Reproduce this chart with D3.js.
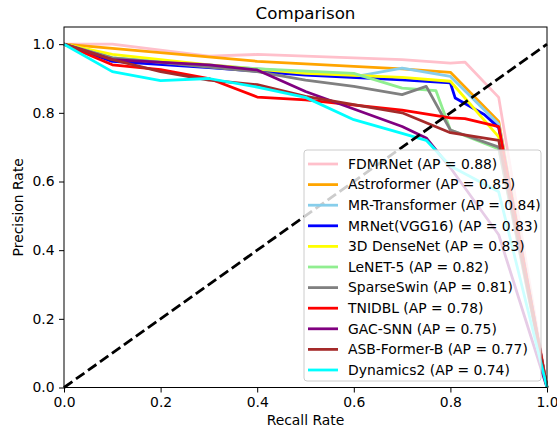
<!DOCTYPE html>
<html lang="en">
<head>
	<meta charset="utf-8" />
	<title>Comparison</title>
	<script src="https://d3js.org/d3.v7.min.js"></script>
</head>

<style>
body { margin: 0; background: white; }
text { font-family: "DejaVu Sans", sans-serif; fill: black; }
</style>

<body>

<!-- Create a div where the graph will take place -->
<div id="prchart"></div>

</body>

<script>

// model names and AP values (legend)
var names = ["FDMRNet", "Astroformer", "MR-Transformer", "MRNet(VGG16)", "3D DenseNet",
             "LeNET-5", "SparseSwin", "TNIDBL", "GAC-SNN", "ASB-Former-B", "Dynamics2"];
var apValues = ["0.88", "0.85", "0.84", "0.83", "0.83", "0.82", "0.81", "0.78", "0.75", "0.77", "0.74"];
var colors = ["pink", "orange", "skyblue", "blue", "yellow", "lightgreen", "gray", "red", "purple", "brown", "cyan"];

// recall / precision points, one pair per model
var recallFDMRNet     = [0, 0.1, 0.3, 0.4, 0.7, 0.8, 0.83, 0.9, 1.0];
var precisionFDMRNet  = [1, 1.0, 0.965, 0.97, 0.955, 0.945, 0.948, 0.845, 0];
var recallAstro       = [0, 0.1, 0.4, 0.7, 0.8, 0.9, 1.0];
var precisionAstro    = [1, 0.988, 0.95, 0.928, 0.918, 0.775, 0];
var recallMRT         = [0, 0.1, 0.3, 0.6, 0.7, 0.8, 0.9, 1.0];
var precisionMRT      = [1, 0.96, 0.94, 0.905, 0.93, 0.906, 0.767, 0];
var recallMRNet       = [0, 0.1, 0.3, 0.5, 0.7, 0.8, 0.81, 0.87, 0.9, 1.0];
var precisionMRNet    = [1, 0.95, 0.932, 0.91, 0.896, 0.887, 0.843, 0.795, 0.757, 0];
var recallDense       = [0, 0.1, 0.3, 0.5, 0.7, 0.8, 0.9, 1.0];
var precisionDense    = [1, 0.97, 0.94, 0.915, 0.903, 0.892, 0.73, 0];
var recallLeNet       = [0, 0.1, 0.3, 0.6, 0.7, 0.77, 0.8, 0.9, 1.0];
var precisionLeNet    = [1, 0.96, 0.935, 0.915, 0.872, 0.865, 0.75, 0.695, 0];
var recallSwin        = [0, 0.1, 0.4, 0.5, 0.6, 0.7, 0.75, 0.8, 0.9, 1.0];
var precisionSwin     = [1, 0.96, 0.92, 0.895, 0.877, 0.853, 0.877, 0.75, 0.7, 0];
var recallTNIDBL      = [0, 0.1, 0.2, 0.3, 0.4, 0.5, 0.7, 0.8, 0.83, 0.9, 1.0];
var precisionTNIDBL   = [1, 0.94, 0.926, 0.9, 0.846, 0.838, 0.808, 0.785, 0.783, 0.76, 0];
var recallGAC         = [0, 0.1, 0.3, 0.4, 0.5, 0.7, 0.75, 0.8, 0.9, 1.0];
var precisionGAC      = [1, 0.955, 0.94, 0.925, 0.862, 0.76, 0.727, 0.64, 0.445, 0];
var recallASB         = [0, 0.1, 0.2, 0.3, 0.4, 0.5, 0.7, 0.8, 0.9, 1.0];
var precisionASB      = [1, 0.955, 0.92, 0.895, 0.882, 0.848, 0.8, 0.742, 0.72, 0];
var recallDyn         = [0, 0.1, 0.2, 0.3, 0.4, 0.5, 0.6, 0.7, 0.75, 0.8, 0.9, 1.0];
var precisionDyn      = [1, 0.92, 0.894, 0.9, 0.875, 0.845, 0.78, 0.74, 0.72, 0.645, 0.57, 0];

var recalls = [recallFDMRNet, recallAstro, recallMRT, recallMRNet, recallDense, recallLeNet,
               recallSwin, recallTNIDBL, recallGAC, recallASB, recallDyn];
var precisions = [precisionFDMRNet, precisionAstro, precisionMRT, precisionMRNet, precisionDense, precisionLeNet,
                  precisionSwin, precisionTNIDBL, precisionGAC, precisionASB, precisionDyn];

var tickValues = [0, 0.2, 0.4, 0.6, 0.8, 1.0];

// set the dimensions and margins of the graph
var margin = {top: 27, right: 10, bottom: 44.5, left: 64},
    width = 557 - margin.left - margin.right,
    height = 432 - margin.top - margin.bottom;

var svgRoot = d3.select("#prchart")
  .append("svg")
    .attr("width", 557)
    .attr("height", 432);

var svg = svgRoot.append("g")
    .attr("transform", "translate(" + margin.left + "," + margin.top + ")");

var x = d3.scaleLinear().domain([0, 1]).range([0, width]);
var y = d3.scaleLinear().domain([0, 1.05]).range([height, 0]);

// axes
var xAxis = svg.append("g")
  .attr("transform", "translate(0," + height + ")")
  .call(d3.axisBottom(x).tickValues(tickValues).tickFormat(d3.format(".1f"))
        .tickSize(5).tickPadding(4.5).tickSizeOuter(0));
var yAxis = svg.append("g")
  .call(d3.axisLeft(y).tickValues(tickValues).tickFormat(d3.format(".1f"))
        .tickSize(5).tickPadding(4.5).tickSizeOuter(0));
[xAxis, yAxis].forEach(function(a) {
  a.select(".domain").remove();
  a.selectAll("line").attr("stroke", "black").attr("stroke-width", 1);
  a.selectAll("text").style("font-size", "13.9px").style("font-family", "DejaVu Sans").attr("fill", "black");
});

// one line per model
var line = d3.line()
  .x(function(d) { return x(d[0]); })
  .y(function(d) { return y(d[1]); });

names.forEach(function(n, i) {
  var pts = recalls[i].map(function(r, j) { return [r, precisions[i][j]]; });
  svg.append("path")
    .datum(pts)
    .attr("fill", "none")
    .attr("stroke", colors[i])
    .attr("stroke-width", 2.78)
    .attr("stroke-linejoin", "round")
    .attr("d", line);
});

// chance diagonal
svg.append("path")
  .datum([[0, 0], [1, 1]])
  .attr("fill", "none")
  .attr("stroke", "black")
  .attr("stroke-width", 2.78)
  .attr("stroke-dasharray", "10.3,4.4")
  .attr("d", line);

// frame
svg.append("rect")
  .attr("width", width)
  .attr("height", height)
  .attr("fill", "none")
  .attr("stroke", "black")
  .attr("stroke-width", 1);

// labels
svgRoot.append("text")
  .attr("x", margin.left + width / 2)
  .attr("y", 19)
  .attr("text-anchor", "middle")
  .style("font-size", "16.7px")
  .text("Comparison");
svgRoot.append("text")
  .attr("x", margin.left + width / 2)
  .attr("y", 425)
  .attr("text-anchor", "middle")
  .style("font-size", "13.9px")
  .text("Recall Rate");
svgRoot.append("text")
  .attr("transform", "translate(23," + (margin.top + height / 2) + ") rotate(-90)")
  .attr("text-anchor", "middle")
  .style("font-size", "13.9px")
  .text("Precision Rate");

// legend, lower right
var legend = svgRoot.append("g").attr("transform", "translate(304,150)");
legend.append("rect")
  .attr("width", 237)
  .attr("height", 231)
  .attr("rx", 3)
  .attr("fill", "white")
  .attr("fill-opacity", 0.8)
  .attr("stroke", "#cccccc")
  .attr("stroke-width", 1);

names.forEach(function(n, i) {
  var ly = 14 + i * 20.6;
  legend.append("line")
    .attr("x1", 4).attr("x2", 34)
    .attr("y1", ly).attr("y2", ly)
    .attr("stroke", colors[i])
    .attr("stroke-width", 2.78);
  legend.append("text")
    .attr("x", 44)
    .attr("y", ly)
    .attr("dy", "0.35em")
    .style("font-size", "13.9px")
    .text(n + " (AP = " + apValues[i] + ")");
});

</script>

</html>
